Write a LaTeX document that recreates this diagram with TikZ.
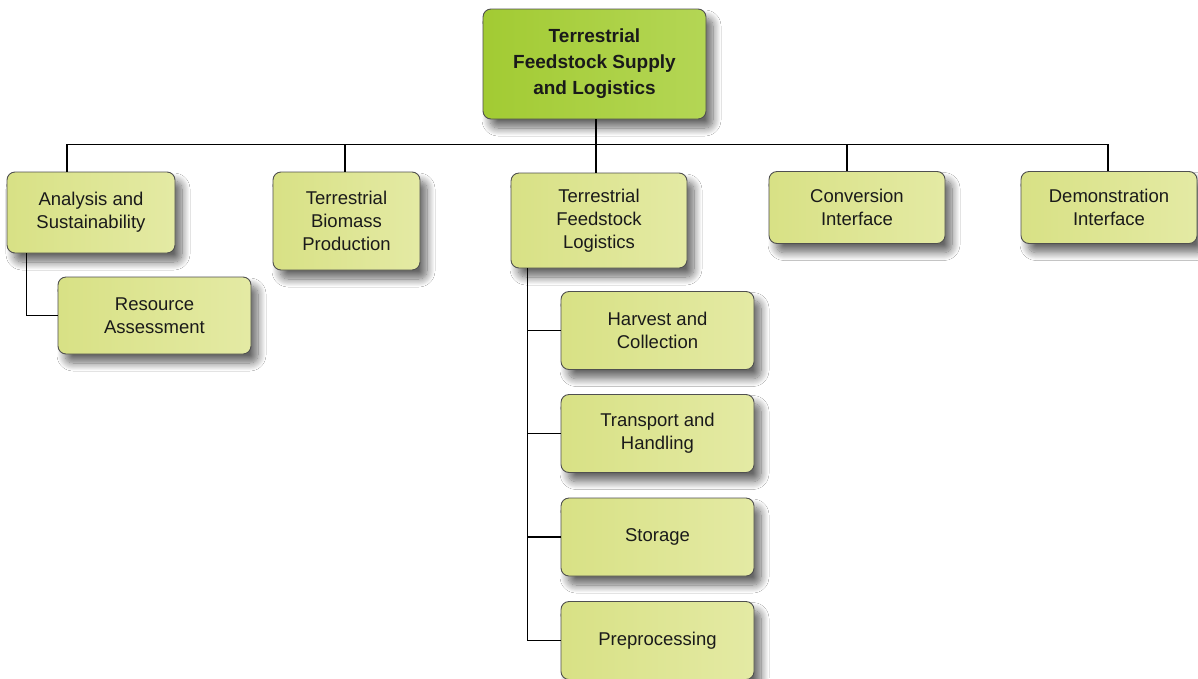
\documentclass[tikz,border=0pt]{standalone}
\usepackage{fontspec}
\setmainfont{Liberation Sans}
\usetikzlibrary{shadows.blur,calc}
\definecolor{boxA}{HTML}{D8E185}
\definecolor{boxB}{HTML}{E4EAA4}
\definecolor{rootA}{HTML}{A2CB33}
\definecolor{rootB}{HTML}{B4D655}
\definecolor{edgegray}{HTML}{505050}
\definecolor{txt}{HTML}{1A1A1A}
\tikzset{
  box/.style={draw=edgegray, line width=0.9pt, rounded corners=8pt,
    left color=boxA, right color=boxB, text=txt,
    align=center, inner sep=2pt, font=\fontsize{18.5}{23}\selectfont,
    blur shadow={shadow xshift=7pt, shadow yshift=-9pt, shadow blur radius=8pt, shadow blur steps=14, shadow opacity=60}},
  rootbox/.style={box, left color=rootA, right color=rootB,
    font=\fontsize{19}{26}\selectfont\bfseries},
  link/.style={draw=black, line width=1.8pt}
}
\begin{document}
\begin{tikzpicture}[x=1pt,y=-1pt]
\useasboundingbox (0,0) rectangle (1198,678);
\fill[white] (0,0) rectangle (1198,678);
\node[rootbox, minimum width=223pt, minimum height=110pt] (root) at (594.5,64) {Terrestrial\\Feedstock Supply\\and Logistics};
\node[box, minimum width=168pt, minimum height=81pt] (an) at (91,212.5) {Analysis and\\Sustainability};
\node[box, minimum width=147pt, minimum height=98pt] (bio) at (346.5,221) {Terrestrial\\Biomass\\Production};
\node[box, minimum width=176pt, minimum height=95pt] (lg) at (599,220.5) {Terrestrial\\Feedstock\\Logistics};
\node[box, minimum width=176pt, minimum height=72pt] (conv) at (857,207.5) {Conversion\\Interface};
\node[box, minimum width=176pt, minimum height=72pt] (demo) at (1109,207.5) {Demonstration\\Interface};
\node[box, minimum width=193pt, minimum height=77pt] (res) at (154.5,315.5) {Resource\\Assessment};
\node[box, minimum width=193pt, minimum height=78pt] (hc) at (657.5,330.5) {Harvest and\\Collection};
\node[box, minimum width=193pt, minimum height=78pt] (th) at (657.5,433.5) {Transport and\\Handling};
\node[box, minimum width=193pt, minimum height=78pt] (st) at (657.5,537) {Storage};
\node[box, minimum width=193pt, minimum height=78pt] (pre) at (657.5,640.5) {Preprocessing};
\coordinate (bus) at ($(root.south)+(1.5,25)$);
\coordinate (trunk) at ([xshift=17pt]lg.south west);
\draw[link] (root.south -| bus) -- (bus);
\draw[link] ([xshift=-24pt]an.north) |- (bus);
\draw[link] ([xshift=-1.5pt]bio.north) |- (bus);
\draw[link] ([xshift=-3pt]lg.north) |- (bus);
\draw[link] ([xshift=-10pt]conv.north) |- (bus);
\draw[link] ([xshift=-1pt]demo.north) |- (bus);
\draw[link] ([xshift=20pt]an.south west) |- (res.west);
\draw[link] (trunk) |- (pre.west);
\draw[link] (hc.west) -- (hc.west -| trunk);
\draw[link] (th.west) -- (th.west -| trunk);
\draw[link] (st.west) -- (st.west -| trunk);
\end{tikzpicture}
\end{document}
